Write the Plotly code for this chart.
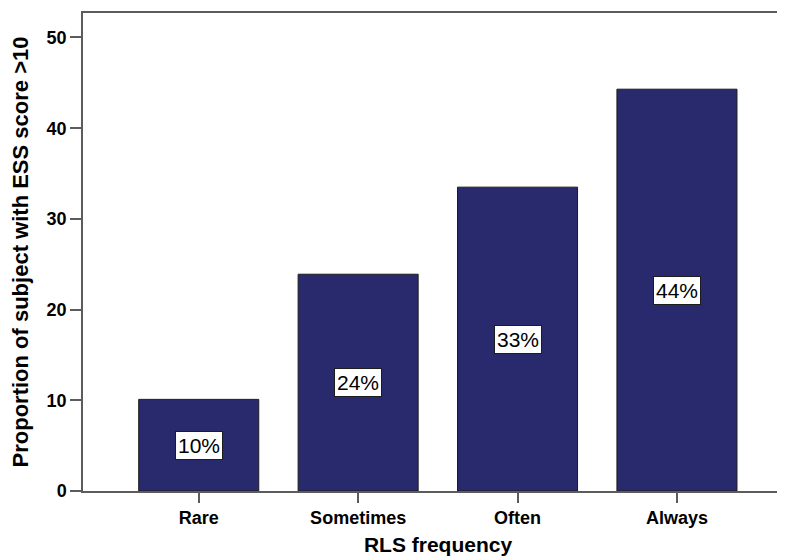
import plotly.graph_objects as go

categories = ["Rare", "Sometimes", "Often", "Always"]
values = [10.1, 23.9, 33.5, 44.3]
labels = ["10%", "24%", "33%", "44%"]
y_ticks = [0, 10, 20, 30, 40, 50]

FONT = "Arial, Liberation Sans, sans-serif"
BAR = "#29296e"
AX = "#5c5c5c"

fig = go.Figure()
fig.add_trace(go.Bar(
    x=list(range(len(categories))),
    y=values,
    width=0.753,
    marker=dict(color=BAR, line=dict(color="#1c1c1c", width=1)),
    hoverinfo="skip",
))

for i, (v, lab) in enumerate(zip(values, labels)):
    fig.add_annotation(
        x=i, y=v / 2, text=lab, showarrow=False,
        font=dict(family=FONT, size=21, color="#000000"),
        bgcolor="#ffffff", bordercolor="#1c1c1c", borderwidth=1, borderpad=2,
        xref="x", yref="y",
    )

fig.update_layout(
    width=785, height=558,
    margin=dict(l=75, r=0, t=5, b=75),
    paper_bgcolor="white", plot_bgcolor="white",
    showlegend=False,
    font=dict(family=FONT, color="#000000"),
    xaxis=dict(
        tickmode="array",
        tickvals=list(range(len(categories))),
        ticktext=categories,
        range=[-0.726, 3.728],
        showgrid=False, zeroline=False,
        showline=True, linecolor=AX, linewidth=1.5, mirror=True,
        ticks="outside", ticklen=10, tickcolor=AX, tickwidth=1.5,
        tickfont=dict(family=FONT, size=18, color="#000000", weight="bold"),
        title=dict(text="<b>RLS frequency</b>", font=dict(family=FONT, size=21, color="#000000"), standoff=10),
    ),
    yaxis=dict(
        range=[0, 52.7],
        tickmode="array", tickvals=y_ticks,
        showgrid=False, zeroline=False,
        showline=True, linecolor=AX, linewidth=1.5, mirror=False,
        ticks="outside", ticklen=11, tickcolor=AX, tickwidth=1.5,
        tickfont=dict(family=FONT, size=18, color="#000000", weight="bold"),
        title=dict(text="<b>Proportion of subject with ESS score >10</b>", font=dict(family=FONT, size=22, color="#000000"), standoff=12),
    ),
)

fig.write_html("out.html")
